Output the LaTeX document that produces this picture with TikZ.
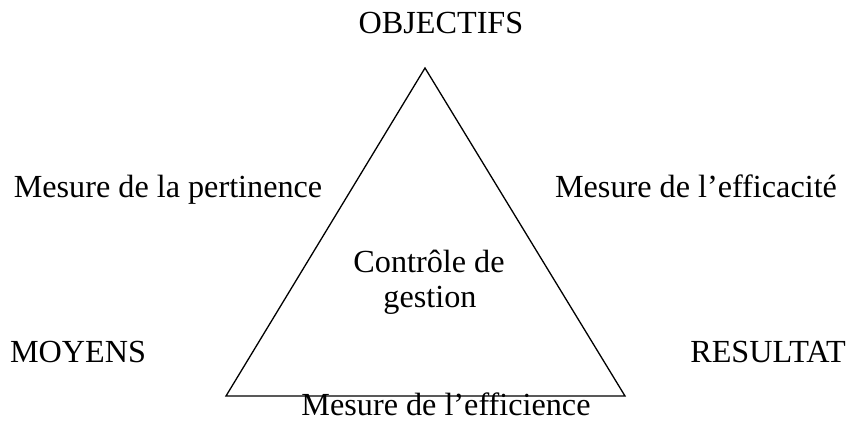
\documentclass[tikz,border=0pt]{standalone}
\usepackage{fontspec}
\setmainfont{Liberation Serif}
\usepackage{tikz}
\usetikzlibrary{positioning}

\tikzset{
  label/.style={anchor=base, inner sep=0pt, font=\fontsize{32.2}{36}\selectfont},
  pole/.style={label},
}

\begin{document}
\begin{tikzpicture}[x=1pt, y=-1pt, line width=1.3pt]
\useasboundingbox (0,0) rectangle (851,421);

% ── Triangle ────────────────────────────────────────────────────
\coordinate (apex) at (425,68);
\coordinate (baseL) at (226,396);
\coordinate (baseR) at (625,396);
\draw (apex) -- (baseL) -- (baseR) -- cycle;

% ── Poles ───────────────────────────────────────────────────────
\node[pole] (objectifs) at (441,33) {OBJECTIFS};
\node[pole] (moyens) at (78,362) {MOYENS};
\node[pole] (resultat) at (768,362) {RESULTAT};

% ── Measures ────────────────────────────────────────────────────
\node[label] (pertinence) at (168,197) {Mesure de la pertinence};
\node[label] (efficacite) at (696,197) {Mesure de l’efficacité};
\node[label] (efficience) at (446,415) {Mesure de l’efficience};

% ── Centre ──────────────────────────────────────────────────────
\node[label] (controle) at (429,272) {Contrôle de};
\node[label] (gestion) at (430,307) {gestion};

\end{tikzpicture}
\end{document}
